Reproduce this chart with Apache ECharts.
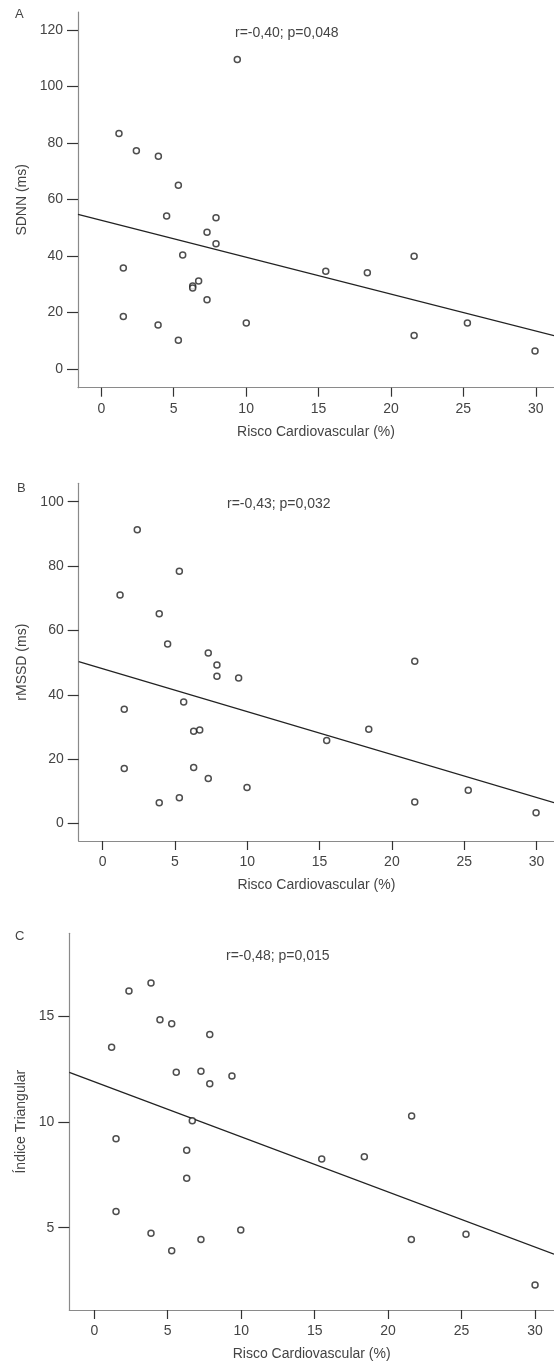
<!DOCTYPE html>
<html>
<head>
<meta charset="utf-8">
<script src="https://cdn.jsdelivr.net/npm/echarts@6/dist/echarts.min.js"></script>
<style>
html,body{margin:0;padding:0;background:#fff;}
#chart{width:554px;height:1366px;}
</style>
</head>
<body>
<div id="chart"></div>
<script>
// ---- data ----
const xTicks = [0, 5, 10, 15, 20, 25, 30];
const yTicksA = [0, 20, 40, 60, 80, 100, 120];
const yTicksB = [0, 20, 40, 60, 80, 100];
const yTicksC = [5, 10, 15];

const riscoA = [9.39,1.22,2.42,3.94,5.32,4.51,7.92,7.30,7.92,5.62,1.52,6.72,6.31,6.31,7.30,1.52,3.92,10.01,5.32,21.6,15.5,18.37,25.28,21.6,29.95];
const sdnn   = [109.6,83.4,77.3,75.3,65.1,54.2,53.6,48.4,44.4,40.4,35.8,31.2,29.4,28.7,24.5,18.6,15.6,16.3,10.2,39.9,34.6,34.1,16.3,11.9,6.4];

const riscoB = [2.39,5.30,1.20,3.91,4.49,7.30,7.90,7.90,9.40,5.60,1.49,6.29,6.71,1.49,6.29,7.30,9.98,5.30,3.91,21.58,18.40,15.49,25.28,21.58,29.97];
const rmssd  = [91.3,78.4,71.0,65.2,55.8,53.0,49.3,45.8,45.2,37.8,35.5,28.7,29.1,17.1,17.4,14.0,11.2,8.0,6.5,50.4,29.3,25.8,10.4,6.7,3.4];

const riscoC = [3.86,2.36,4.47,5.27,7.86,1.18,5.58,7.26,9.37,7.86,6.67,1.48,6.29,6.29,1.48,3.86,9.97,7.26,5.27,21.6,15.48,18.38,25.3,21.58,30.0];
const indiceTri = [16.54,16.17,14.81,14.62,14.12,13.51,12.33,12.38,12.16,11.79,10.05,9.20,8.65,7.34,5.77,4.74,4.89,4.45,3.92,10.27,8.24,8.35,4.69,4.45,2.30];

const fitA = [[-1.61, 54.8], [31.26, 11.8]];
const fitB = [[-1.66, 50.3], [31.21, 6.5]];
const fitC = [[-1.70, 12.33], [31.29, 3.75]];

const statsA = 'r=-0,40; p=0,048';
const statsB = 'r=-0,43; p=0,032';
const statsC = 'r=-0,48; p=0,015';

// ---- chart ----
const FONT = '"Liberation Sans", Arial, sans-serif';
const labelColor = '#444';

function pairs(xs, ys) { return xs.map((x, i) => [x, ys[i]]); }

function xAxis(idx, min, max) {
  return {
    type: 'value', gridIndex: idx, min: min, max: max,
    name: 'Risco Cardiovascular (%)', nameLocation: 'middle', nameGap: 37,
    nameTextStyle: { fontFamily: FONT, fontSize: 14, color: labelColor },
    axisLine: { show: true, onZero: false, lineStyle: { color: '#8a8a8a', width: 1.2 } },
    axisTick: { show: true, inside: false, length: 9, customValues: xTicks, lineStyle: { color: '#333', width: 1.2 } },
    axisLabel: { show: true, margin: 14, customValues: xTicks, fontFamily: FONT, fontSize: 14, color: labelColor },
    splitLine: { show: false }
  };
}
function yAxis(idx, min, max, ticks, name, gap) {
  return {
    type: 'value', gridIndex: idx, min: min, max: max,
    name: name, nameLocation: 'middle', nameGap: gap, nameRotate: 90,
    nameTextStyle: { fontFamily: FONT, fontSize: 14, color: labelColor },
    axisLine: { show: true, onZero: false, lineStyle: { color: '#8a8a8a', width: 1.2 } },
    axisTick: { show: true, inside: false, length: 11, customValues: ticks, lineStyle: { color: '#333', width: 1.2 } },
    axisLabel: { show: true, margin: 15, customValues: ticks, fontFamily: FONT, fontSize: 14, color: labelColor },
    splitLine: { show: false }
  };
}
function scatter(idx, data) {
  return {
    type: 'scatter', xAxisIndex: idx, yAxisIndex: idx, data: data,
    symbol: 'circle', symbolSize: 6,
    itemStyle: { color: '#fff', borderColor: '#222', borderWidth: 1.5 },
    silent: true, animation: false
  };
}
function fitLine(idx, data) {
  return {
    type: 'line', xAxisIndex: idx, yAxisIndex: idx, data: data,
    showSymbol: false, symbol: 'none', clip: true,
    lineStyle: { color: '#222', width: 1.3 },
    silent: true, animation: false, z: 1
  };
}

const chart = echarts.init(document.getElementById('chart'), null, { renderer: 'canvas' });
chart.setOption({
  backgroundColor: '#fff',
  animation: false,
  grid: [
    { left: 78, top: 12, width: 476, height: 375.7, containLabel: false },
    { left: 78.7, top: 483.3, width: 475.3, height: 357.7, containLabel: false },
    { left: 69.3, top: 933.3, width: 484.7, height: 376.7, containLabel: false }
  ],
  xAxis: [
    xAxis(0, -1.61, 31.26),
    xAxis(1, -1.66, 31.21),
    xAxis(2, -1.70, 31.29)
  ],
  yAxis: [
    yAxis(0, -6.6, 126.4, yTicksA, 'SDNN (ms)', 40),
    yAxis(1, -5.4, 105.7, yTicksB, 'rMSSD (ms)', 39),
    yAxis(2, 1.12, 18.89, yTicksC, 'Índice Triangular', 31)
  ],
  series: [
    fitLine(0, fitA), scatter(0, pairs(riscoA, sdnn)),
    fitLine(1, fitB), scatter(1, pairs(riscoB, rmssd)),
    fitLine(2, fitC), scatter(2, pairs(riscoC, indiceTri))
  ],
  graphic: [
    { type: 'text', left: 15, top: 8, style: { text: 'A', font: '13px ' + FONT, fill: labelColor } },
    { type: 'text', left: 17, top: 482, style: { text: 'B', font: '13px ' + FONT, fill: labelColor } },
    { type: 'text', left: 15, top: 930, style: { text: 'C', font: '13px ' + FONT, fill: labelColor } },
    { type: 'text', left: 235, top: 26, style: { text: statsA, font: '14px ' + FONT, fill: labelColor } },
    { type: 'text', left: 227, top: 497, style: { text: statsB, font: '14px ' + FONT, fill: labelColor } },
    { type: 'text', left: 226, top: 949, style: { text: statsC, font: '14px ' + FONT, fill: labelColor } }
  ]
});
</script>
</body>
</html>
